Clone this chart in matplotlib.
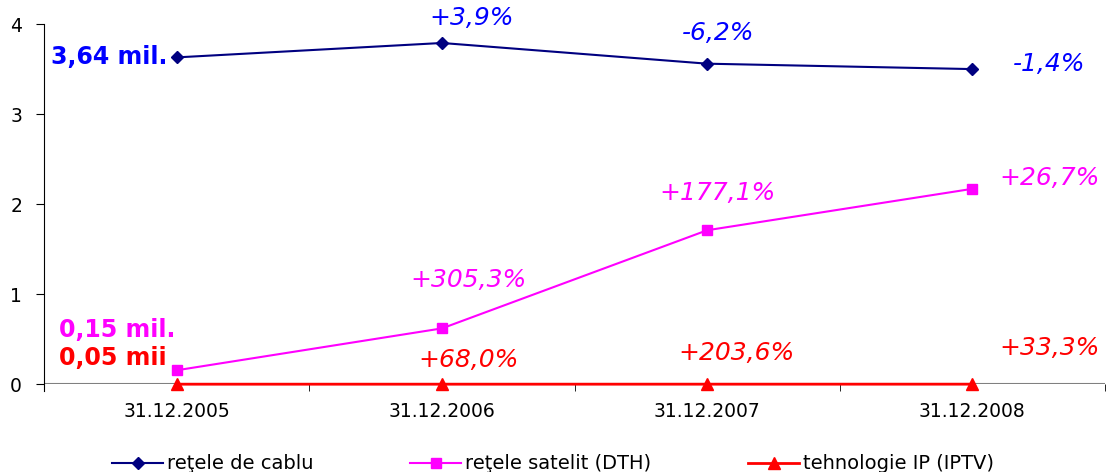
import matplotlib.pyplot as plt
import numpy as np

dates = ["31.12.2005", "31.12.2006", "31.12.2007", "31.12.2008"]
cable = [3.63, 3.79, 3.56, 3.50]
satellite = [0.155, 0.62, 1.71, 2.17]
iptv = [0.00005, 0.00008, 0.00025, 0.00033]

cable_pct = ["+3,9%", "-6,2%", "-1,4%"]
sat_pct = ["+305,3%", "+177,1%", "+26,7%"]
iptv_pct = ["+68,0%", "+203,6%", "+33,3%"]

BLUE_LINE = "#000080"
BLUE_TXT = "#0000FF"
MAGENTA = "#FF00FF"
RED = "#FF0000"

fig = plt.figure(figsize=(11.06, 4.72), dpi=100)
ax = fig.add_axes([0.040, 0.186, 0.959, 0.763])

x = np.arange(len(dates))

ax.axhline(0, color="#808080", lw=1.5, zorder=1)
ax.plot(x, cable, color=BLUE_LINE, marker="D", markersize=6, lw=1.5,
        label="reţele de cablu", zorder=3, clip_on=False)
ax.plot(x, satellite, color=MAGENTA, marker="s", markersize=7, lw=1.5,
        label="reţele satelit (DTH)", zorder=3, clip_on=False)
ax.plot(x, iptv, color=RED, marker="^", markersize=9, lw=2,
        label="tehnologie IP (IPTV)", zorder=3, clip_on=False)

ax.set_xlim(-0.5, 3.5)
ax.set_ylim(0, 4)
ax.set_yticks([0, 1, 2, 3, 4])
ax.tick_params(axis="y", labelsize=13.5, length=6, direction="out", pad=10)

ax.set_xticks(x)
ax.set_xticklabels(dates, fontsize=13.5)
ax.tick_params(axis="x", length=0, pad=13)
ax.set_xticks(np.arange(-0.5, 4, 1), minor=True)
ax.tick_params(axis="x", which="minor", length=5, direction="out")

for s in ["top", "right", "bottom"]:
    ax.spines[s].set_visible(False)
ax.spines["left"].set_bounds(-0.07, 4)

# start labels
ax.text(-0.475, cable[0], "3,64 mil.", color=BLUE_TXT, fontsize=17,
        fontweight="bold", va="center", ha="left")
ax.text(-0.445, 0.6, "0,15 mil.", color=MAGENTA, fontsize=17,
        fontweight="bold", va="center", ha="left")
ax.text(-0.445, 0.29, "0,05 mii", color=RED, fontsize=17,
        fontweight="bold", va="center", ha="left")

# growth labels
pct_style = dict(fontsize=18, style="italic", ha="center", va="center", clip_on=False)
cable_pos = [(1.11, 4.07), (2.04, 3.9), (3.29, 3.56)]
sat_pos = [(1.1, 1.16), (2.04, 2.12), (3.29, 2.29)]
iptv_pos = [(1.1, 0.27), (2.11, 0.35), (3.29, 0.4)]
for (px, py), t in zip(cable_pos, cable_pct):
    ax.text(px, py, t, color=BLUE_TXT, **pct_style)
for (px, py), t in zip(sat_pos, sat_pct):
    ax.text(px, py, t, color=MAGENTA, **pct_style)
for (px, py), t in zip(iptv_pos, iptv_pct):
    ax.text(px, py, t, color=RED, **pct_style)

fig.legend(loc="lower center", bbox_to_anchor=(0.5, -0.04), ncol=3, frameon=False,
           fontsize=14, columnspacing=5.0, handlelength=2.6, handletextpad=0.2)

fig.savefig("out.png", dpi=100)
